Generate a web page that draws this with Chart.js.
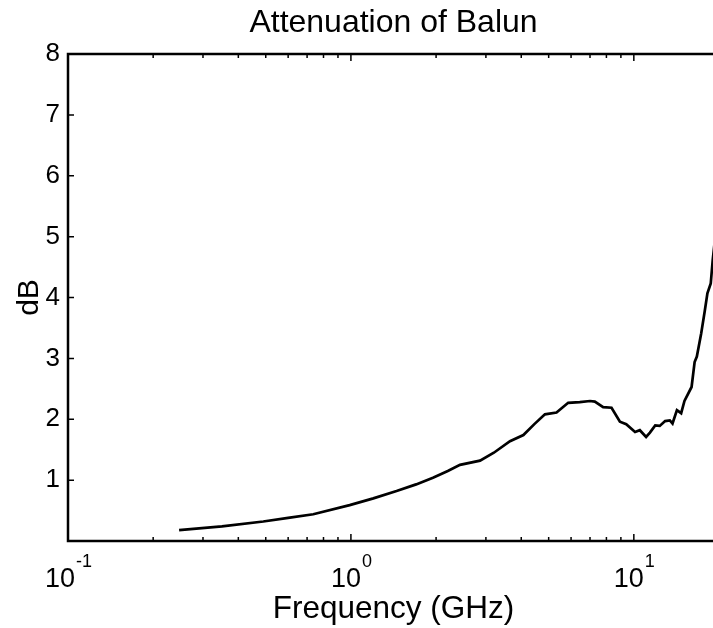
<!DOCTYPE html>
<html>
<head>
<meta charset="utf-8">
<script src="https://cdn.jsdelivr.net/npm/chart.js@4.4.1/dist/chart.umd.min.js"></script>
<style>
  html, body { margin: 0; padding: 0; background: #fff; overflow: hidden; }
  #wrap { width: 722px; height: 628px; }
</style>
</head>
<body>
<div id="wrap"><canvas id="chart" width="722" height="628"></canvas></div>
<script>
// frequency points (GHz)
const freqGHz = [0.247, 0.35, 0.49, 0.6, 0.736, 0.99, 1.2, 1.45, 1.7, 1.95, 2.2, 2.43, 2.86, 3.2, 3.65,
  4.07, 4.45, 4.85, 5.33, 5.86, 6.44, 7.0, 7.28, 7.79, 8.34, 8.93, 9.4, 10.1, 10.5, 11.05, 11.4, 11.9,
  12.35, 12.9, 13.4, 13.7, 14.2, 14.7, 15.1, 16.0, 16.4, 16.7, 17.3, 17.8, 18.2, 18.7, 19.0, 19.5];
// attenuation in dB
const attenuationDb = [0.18, 0.24, 0.32, 0.38, 0.44, 0.59, 0.70, 0.82, 0.93, 1.04, 1.15, 1.25, 1.32, 1.45, 1.64,
  1.74, 1.92, 2.08, 2.11, 2.27, 2.28, 2.30, 2.29, 2.20, 2.19, 1.96, 1.92, 1.79, 1.82, 1.71, 1.78, 1.90,
  1.89, 1.97, 1.98, 1.93, 2.15, 2.10, 2.30, 2.53, 2.94, 3.03, 3.41, 3.77, 4.07, 4.23, 4.61, 5.1];

const xTickValues = [0.1, 1, 10];
const xTickExponents = ['-1', '0', '1'];
const yTickValues = [1, 2, 3, 4, 5, 6, 7, 8];
const chartTitle = 'Attenuation of Balun';

const FONT = "'Liberation Sans', Arial, Helvetica, sans-serif";

// matlab style box with inward ticks, superscript decade labels, title over the axes
const matlabAxes = {
  id: 'matlabAxes',
  afterDraw(chart) {
    const { ctx, chartArea: a, scales } = chart;
    const x = scales.x, y = scales.y;
    ctx.save();
    ctx.strokeStyle = '#000';
    ctx.lineWidth = 2.5;
    ctx.strokeRect(a.left, a.top, a.right - a.left, a.bottom - a.top);

    ctx.lineWidth = 1.5;
    ctx.beginPath();
    yTickValues.forEach(v => {
      const py = y.getPixelForValue(v);
      ctx.moveTo(a.left, py); ctx.lineTo(a.left + 6, py);
      ctx.moveTo(a.right, py); ctx.lineTo(a.right - 6, py);
    });
    for (let d = -1; d <= 1; d++) {
      for (let m = 1; m <= 9; m++) {
        const v = m * Math.pow(10, d);
        if (v > x.max) break;
        const px = x.getPixelForValue(v);
        const len = m === 1 ? 7 : 4;
        ctx.moveTo(px, a.bottom); ctx.lineTo(px, a.bottom - len);
        ctx.moveTo(px, a.top); ctx.lineTo(px, a.top + len);
      }
    }
    ctx.stroke();

    ctx.fillStyle = '#000';
    ctx.textBaseline = 'alphabetic';
    xTickValues.forEach((v, i) => {
      const px = x.getPixelForValue(v);
      ctx.font = '27px ' + FONT;
      const w1 = ctx.measureText('10').width;
      ctx.font = '18px ' + FONT;
      const w2 = ctx.measureText(xTickExponents[i]).width;
      const left = px - (w1 + w2) / 2;
      ctx.font = '27px ' + FONT;
      ctx.textAlign = 'left';
      ctx.fillText('10', left, 587);
      ctx.font = '18px ' + FONT;
      ctx.fillText(xTickExponents[i], left + w1 + 1, 567);
    });

    ctx.font = '32px ' + FONT;
    ctx.textAlign = 'center';
    ctx.textBaseline = 'middle';
    ctx.fillText(chartTitle, (a.left + a.right) / 2, 23);
    ctx.restore();
  }
};

new Chart(document.getElementById('chart'), {
  type: 'line',
  data: {
    datasets: [{
      label: 'Attenuation',
      data: freqGHz.map((f, i) => ({ x: f, y: attenuationDb[i] })),
      borderColor: '#000',
      borderWidth: 2.7,
      pointRadius: 0,
      tension: 0,
      fill: false
    }]
  },
  plugins: [matlabAxes],
  options: {
    responsive: false,
    animation: false,
    layout: { padding: { left: 12, right: 3, top: 54, bottom: 0 } },
    plugins: {
      legend: { display: false },
      tooltip: { enabled: false },
      title: { display: false }
    },
    scales: {
      x: {
        type: 'logarithmic',
        min: 0.1,
        max: 20,
        grid: { display: false, drawTicks: false },
        border: { display: false },
        ticks: { display: false },
        title: {
          display: true,
          text: 'Frequency (GHz)',
          color: '#000',
          font: { family: FONT, size: 31.5 },
          padding: 0
        },
        afterFit(scale) { scale.height = 87; }
      },
      y: {
        min: 0,
        max: 8,
        grid: { display: false, drawTicks: false },
        border: { display: false },
        ticks: {
          stepSize: 1,
          color: '#000',
          padding: 8,
          font: { family: FONT, size: 26 },
          callback: v => (v === 0 ? '' : v)
        },
        title: {
          display: true,
          text: 'dB',
          color: '#000',
          font: { family: FONT, size: 30 },
          padding: 0
        },
        afterFit(scale) { scale.width = 56; }
      }
    }
  }
});
</script>
</body>
</html>
